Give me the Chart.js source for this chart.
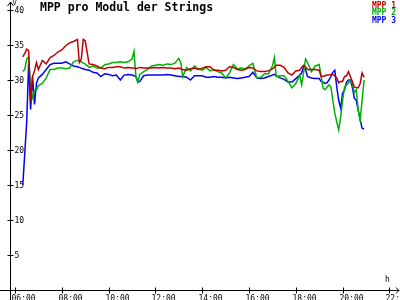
<!DOCTYPE html>
<html>
<head>
<meta charset="utf-8">
<title>MPP pro Modul der Strings</title>
<script src="https://cdn.jsdelivr.net/npm/chart.js@4.4.0/dist/chart.umd.min.js"></script>
<style>
  html, body { margin: 0; padding: 0; background: #fff; }
  canvas { display: block; }
</style>
</head>
<body>
<canvas id="mppChart" width="400" height="300"></canvas>
<script>
// Chart data
const times = [
    '06:20','06:25','06:30','06:35','06:40','06:45','06:50','06:55','07:00','07:10',
    '07:20','07:30','07:40','07:50','08:00','08:10','08:20','08:30','08:40','08:45',
    '08:50','08:55','09:00','09:10','09:20','09:30','09:40','09:50','10:00','10:10',
    '10:20','10:30','10:40','10:50','11:00','11:05','11:10','11:15','11:20','11:30',
    '11:40','11:50','12:00','12:10','12:20','12:30','12:40','12:50','13:00','13:05',
    '13:10','13:20','13:30','13:40','13:50','14:00','14:10','14:20','14:30','14:40',
    '14:50','15:00','15:10','15:20','15:30','15:40','15:50','16:00','16:10','16:20',
    '16:30','16:40','16:50','17:00','17:05','17:10','17:20','17:30','17:40','17:50',
    '18:00','18:10','18:15','18:20','18:25','18:30','18:40','18:50','19:00','19:05',
    '19:10','19:15','19:20','19:25','19:30','19:35','19:40','19:45','19:50','19:55',
    '20:00','20:05','20:10','20:15','20:20','20:25','20:30','20:35','20:40','20:45',
    '20:50','20:55'
];

const mpp1 = [
    33.3, 33.8, 34.4, 34.2, 27.0, 30.5, 31.3, 32.5, 31.5, 32.8,
    32.3, 33.2, 33.5, 34.0, 34.3, 34.9, 35.3, 35.5, 35.8, 32.5,
    33.0, 35.8, 35.6, 32.3, 32.2, 32.0, 31.7, 31.6, 31.8, 31.8,
    31.9, 31.9, 31.7, 31.8, 31.7, 31.7, 31.6, 31.7, 31.8, 31.7,
    31.7, 31.7, 31.8, 31.7, 31.8, 31.7, 31.7, 31.6, 31.7, 31.6,
    31.5, 31.4, 31.6, 31.7, 31.5, 31.7, 31.9, 31.9, 31.4, 31.4,
    31.3, 31.4, 31.9, 31.8, 31.5, 31.4, 31.5, 31.8, 31.7, 31.3,
    31.2, 31.2, 31.3, 31.6, 31.8, 32.1, 32.1, 31.8, 31.0, 30.7,
    31.3, 31.4, 31.8, 32.1, 31.9, 31.5, 31.5, 31.5, 31.4, 30.5,
    30.5, 30.6, 30.7, 30.7, 30.8, 30.8, 30.6, 30.3, 29.6, 29.8,
    29.8, 30.5, 30.6, 31.2, 30.5, 29.8, 29.0, 28.9, 28.9, 29.5,
    31.0, 30.4
];

const mpp2 = [
    31.2, 31.5, 33.0, 33.3, 29.0, 27.5, 28.5, 28.6, 29.2, 29.5,
    30.3, 31.5, 31.5, 31.7, 31.7, 31.6, 31.7, 32.6, 32.8, 32.8,
    32.6, 32.4, 32.3, 31.8, 32.0, 31.7, 31.7, 32.2, 32.3, 32.5,
    32.5, 32.6, 32.5, 32.6, 33.0, 34.1, 30.5, 29.7, 30.8, 31.2,
    31.5, 32.0, 32.1, 32.2, 32.1, 32.3, 32.2, 32.4, 33.1, 32.5,
    30.5, 31.8, 31.3, 32.0, 31.6, 31.4, 31.8, 31.3, 31.5, 31.2,
    31.0, 30.3, 31.0, 32.2, 31.6, 31.7, 31.6, 32.0, 32.4, 30.3,
    30.4, 30.9, 30.9, 32.0, 33.2, 30.5, 30.6, 30.6, 29.8, 28.9,
    29.5, 30.7, 29.3, 31.0, 33.0, 32.5, 31.2, 32.0, 32.2, 30.5,
    28.8, 28.6, 29.0, 29.3, 29.0, 27.1, 25.3, 24.0, 22.9, 24.7,
    27.1, 29.0, 29.3, 29.6, 30.0, 29.5, 28.2, 28.6, 25.7, 24.3,
    27.1, 30.0
];

const mpp3 = [
    15.0, 19.5, 24.0, 32.4, 25.8, 30.5, 26.5, 29.5, 30.3, 30.8,
    31.5, 32.2, 32.4, 32.4, 32.4, 32.6, 32.3, 32.0, 31.9, 31.8,
    31.7, 31.6, 31.5, 31.4, 31.1, 31.0, 30.5, 30.9, 30.8, 30.6,
    30.7, 30.0, 30.7, 30.8, 30.7, 30.6, 30.5, 29.7, 29.8, 30.6,
    30.7, 30.7, 30.7, 30.7, 30.7, 30.8, 30.7, 30.6, 30.5, 30.5,
    30.5, 30.4, 30.0, 30.6, 30.6, 30.6, 30.4, 30.4, 30.5, 30.4,
    30.4, 30.3, 30.4, 30.3, 30.2, 30.3, 30.4, 30.5, 31.1, 30.3,
    30.2, 30.3, 30.5, 30.7, 30.8, 30.6, 30.3, 30.1, 29.7, 29.7,
    30.2, 30.7, 31.0, 31.9, 31.5, 30.5, 30.3, 30.2, 30.2, 29.8,
    29.7, 29.5, 29.6, 30.0, 30.5, 31.1, 31.4, 29.0, 27.1, 26.0,
    28.1, 28.6, 29.7, 30.0, 30.0, 29.0, 27.4, 27.1, 25.7, 24.3,
    23.1, 23.0
];

const seriesNames = ['MPP 1', 'MPP 2', 'MPP 3'];
const seriesColors = ['#c00000', '#00b000', '#0000ff'];
const xTickHours = [6, 8, 10, 12, 14, 16, 18, 20, 22];
const yTickValues = [5, 10, 15, 20, 25, 30, 35, 40];
const titleText = 'MPP pro Modul der Strings';

// "HH:MM" -> decimal hours
function toHours(t) {
    const parts = t.split(':');
    return parseInt(parts[0], 10) + parseInt(parts[1], 10) / 60;
}

function pad2(n) {
    return (n < 10 ? '0' : '') + n;
}

function buildPoints(values) {
    return values.map((v, i) => ({ x: toHours(times[i]), y: v }));
}

// Axes, ticks, title and legend drawn by hand in the old applet style
const axesPlugin = {
    id: 'oldAxes',
    afterDraw(chart) {
        const ctx = chart.ctx;
        const xs = chart.scales.x;
        const ys = chart.scales.y;
        const area = chart.chartArea;
        const x0 = Math.round(area.left) + 0.5;
        const y0 = Math.round(ys.getPixelForValue(0)) + 0.5;

        ctx.save();
        ctx.strokeStyle = '#000';
        ctx.fillStyle = '#000';
        ctx.lineWidth = 1;

        // y axis with arrow
        ctx.beginPath();
        ctx.moveTo(x0, 2);
        ctx.lineTo(x0, 300);
        ctx.moveTo(x0 - 3, 6);
        ctx.lineTo(x0, 2);
        ctx.lineTo(x0 + 3, 6);
        ctx.stroke();

        // x axis with arrow
        ctx.beginPath();
        ctx.moveTo(0, y0);
        ctx.lineTo(399, y0);
        ctx.moveTo(396, y0 - 3);
        ctx.lineTo(399, y0);
        ctx.lineTo(396, y0 + 3);
        ctx.stroke();

        // y ticks
        ctx.font = '8px "DejaVu Sans Mono", monospace';
        ctx.textBaseline = 'middle';
        ctx.textAlign = 'left';
        yTickValues.forEach(v => {
            const py = Math.round(ys.getPixelForValue(v)) + 0.5;
            ctx.beginPath();
            ctx.moveTo(x0 - 3, py);
            ctx.lineTo(x0 + 3, py);
            ctx.stroke();
            ctx.fillText(String(v), x0 + 4, py + 0.5);
        });

        // x ticks
        ctx.textBaseline = 'top';
        xTickHours.forEach(h => {
            const px = Math.round(xs.getPixelForValue(h)) + 0.5;
            ctx.beginPath();
            ctx.moveTo(px, y0 - 3);
            ctx.lineTo(px, y0 + 3);
            ctx.stroke();
            ctx.fillText(pad2(h) + ':00', px - 4, y0 + 4);
        });

        // unit labels
        ctx.font = '7px "DejaVu Sans Mono", monospace';
        ctx.fillText('V', x0 + 2, 0);
        ctx.font = '8px "DejaVu Sans Mono", monospace';
        ctx.fillText('h', 385, 276);

        // title
        ctx.font = 'bold 11.5px "DejaVu Sans Mono", monospace';
        ctx.textBaseline = 'top';
        ctx.fillText(titleText, 40, 2);

        // legend
        ctx.font = 'bold 8px "DejaVu Sans Mono", monospace';
        ctx.textAlign = 'right';
        seriesNames.forEach((name, i) => {
            ctx.fillStyle = seriesColors[i];
            ctx.fillText(name, 396, 1.5 + i * 7.8);
        });

        ctx.restore();
    }
};

document.addEventListener('DOMContentLoaded', function() {
    const canvas = document.getElementById('mppChart');
    const seriesValues = [mpp1, mpp2, mpp3];

    // pixel layout: 06:00 at x=15, 23.4px per hour; 0 V at y=290, 7px per volt
    const xMin = 6 - 5 / 23.4;
    const xMax = 6 + (398 - 15) / 23.4;

    new Chart(canvas, {
        type: 'line',
        data: {
            datasets: seriesValues.map((vals, i) => ({
                label: seriesNames[i],
                data: buildPoints(vals),
                borderColor: seriesColors[i],
                borderWidth: 1.5,
                pointRadius: 0,
                tension: 0,
                fill: false
            }))
        },
        options: {
            responsive: false,
            animation: false,
            layout: {
                padding: { left: 10, right: 2, top: 2, bottom: 10 }
            },
            plugins: {
                legend: { display: false },
                tooltip: { enabled: false }
            },
            scales: {
                x: { type: 'linear', display: false, min: xMin, max: xMax },
                y: { type: 'linear', display: false, min: 0, max: 288 / 7 }
            }
        },
        plugins: [axesPlugin]
    });
});
</script>
</body>
</html>
